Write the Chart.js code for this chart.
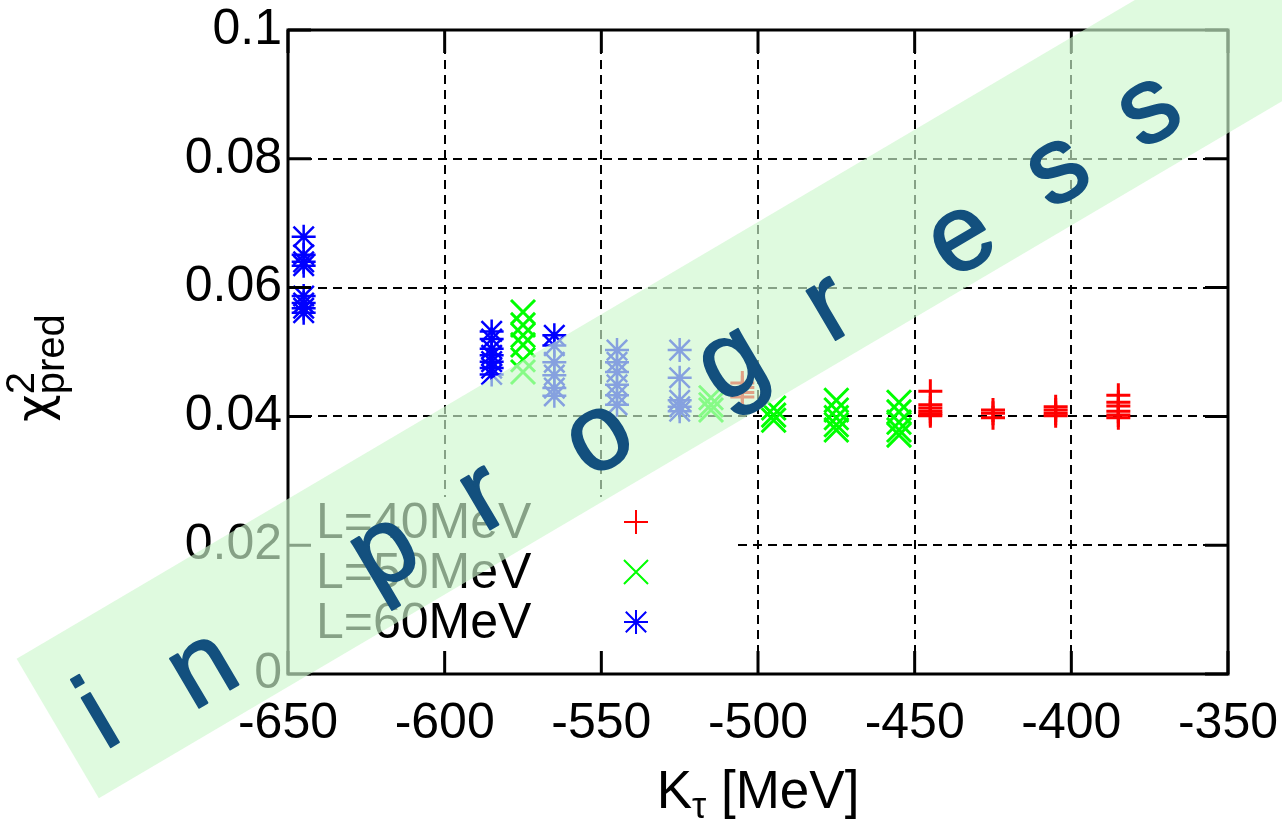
<!DOCTYPE html>
<html>
<head>
<meta charset="utf-8">
<script src="https://cdn.jsdelivr.net/npm/chart.js@4.4.0/dist/chart.umd.min.js"></script>
<style>
  html, body { margin: 0; padding: 0; background: #fff; }
</style>
</head>
<body>
<canvas id="chart" width="1282" height="829"></canvas>
<script>
// K_tau [MeV] and chi^2_pred, one pair of arrays per L
const kTauL40 = [-505, -505, -505, -505,
                 -445, -445, -445, -445, -445, -445,
                 -425, -425, -425,
                 -405, -405, -405, -405,
                 -385, -385, -385, -385, -385, -385];
const chiL40 = [0.0452, 0.0445, 0.0437, 0.0430,
                0.0439, 0.0418, 0.0413, 0.0408, 0.0404, 0.0401,
                0.0410, 0.0405, 0.0398,
                0.0415, 0.0410, 0.0405, 0.0401,
                0.0433, 0.0422, 0.0416, 0.0408, 0.0402, 0.0398];

const kTauL50 = [-575, -575, -575, -575, -575, -575,
                 -515, -515, -515,
                 -495, -495, -495,
                 -475, -475, -475, -475, -475,
                 -455, -455, -455, -455, -455];
const chiL50 = [0.0562, 0.0542, 0.0526, 0.0511, 0.0488, 0.0469,
                0.0429, 0.0418, 0.0410,
                0.0413, 0.0402, 0.0394,
                0.0425, 0.0410, 0.0398, 0.0387, 0.0379,
                0.0422, 0.0407, 0.0391, 0.0379, 0.0371];

const kTauL60 = [-645, -645, -645, -645, -645, -645, -645, -645,
                 -585, -585, -585, -585, -585, -585, -585,
                 -565, -565, -565, -565, -565, -565,
                 -545, -545, -545, -545, -545, -545,
                 -525, -525, -525, -525, -525];
const chiL60 = [0.0679, 0.0651, 0.0640, 0.0634, 0.0587, 0.0576, 0.0568, 0.0561,
                0.0532, 0.0520, 0.0505, 0.0495, 0.0485, 0.0475, 0.0465,
                0.0526, 0.0510, 0.0484, 0.0464, 0.0444, 0.0432,
                0.0503, 0.0484, 0.0469, 0.0449, 0.0433, 0.0418,
                0.0503, 0.0460, 0.0425, 0.0415, 0.0408];

const xTicks = [-650, -600, -550, -500, -450, -400, -350];
const yTicks = [0, 0.02, 0.04, 0.06, 0.08, 0.1];

const FONT = '"Liberation Sans", Arial, sans-serif';

const toPoints = (xs, ys) => xs.map((x, i) => ({ x: x, y: ys[i] }));

// key box in the lower-left corner (opaque, hides the grid behind it)
const keyBox = { right: 738, top: 497 };

// banner lettering: [letter, offset along band, offset across band]
const bannerLetters = [
  ['i', -279, 672], ['n', -165, 683],
  ['p', 51, 674], ['r', 164, 677], ['o', 294, 684], ['g', 446, 687],
  ['r', 558, 689], ['e', 707, 696], ['s', 825, 686], ['s', 934, 681]
];

// gnuplot-style asterisk: a plus and an x of the same size
function drawAsterisk(ctx, cx, cy, r) {
  const d = r * 0.85;
  ctx.beginPath();
  ctx.moveTo(cx - r, cy); ctx.lineTo(cx + r, cy);
  ctx.moveTo(cx, cy - r); ctx.lineTo(cx, cy + r);
  ctx.moveTo(cx - d, cy - d); ctx.lineTo(cx + d, cy + d);
  ctx.moveTo(cx - d, cy + d); ctx.lineTo(cx + d, cy - d);
  ctx.stroke();
}

// keep the plot box where the layout padding puts it
function noLabelMargins(s) {
  s.paddingLeft = 0;
  s.paddingRight = 0;
  s.paddingTop = 0;
  s.paddingBottom = 0;
}

const gnuplotFrame = {
  id: 'gnuplotFrame',
  beforeDatasetsDraw(chart) {
    const { ctx, chartArea: a, scales: { x, y } } = chart;
    ctx.save();
    ctx.strokeStyle = '#000';
    ctx.lineWidth = 2;
    ctx.setLineDash([9, 6]);
    yTicks.slice(1, -1).forEach(v => {
      const py = Math.round(y.getPixelForValue(v));
      const x0 = py > keyBox.top ? keyBox.right : a.left;
      ctx.beginPath();
      ctx.moveTo(x0, py);
      ctx.lineTo(a.right, py);
      ctx.stroke();
    });
    xTicks.slice(1, -1).forEach(v => {
      const px = Math.round(x.getPixelForValue(v));
      const y1 = px < keyBox.right ? keyBox.top : a.bottom;
      ctx.beginPath();
      ctx.moveTo(px, a.top);
      ctx.lineTo(px, y1);
      ctx.stroke();
    });
    ctx.restore();
  },
  afterDatasetsDraw(chart) {
    const { ctx, chartArea: a, scales: { x, y } } = chart;

    // asterisks for the L=60 set, placed through the scales
    const star = chart.data.datasets[2];
    ctx.save();
    ctx.strokeStyle = star.borderColor;
    ctx.lineWidth = 2.5;
    star.data.forEach(p => {
      drawAsterisk(ctx, x.getPixelForValue(p.x), y.getPixelForValue(p.y), 12);
    });
    ctx.restore();

    ctx.save();
    ctx.strokeStyle = '#000';
    ctx.lineWidth = 3;
    ctx.lineCap = 'butt';
    const tl = 23;
    ctx.beginPath();
    xTicks.forEach(v => {
      const px = x.getPixelForValue(v);
      ctx.moveTo(px, a.bottom); ctx.lineTo(px, a.bottom - tl);
      ctx.moveTo(px, a.top); ctx.lineTo(px, a.top + tl);
    });
    yTicks.forEach(v => {
      const py = y.getPixelForValue(v);
      ctx.moveTo(a.left, py); ctx.lineTo(a.left + tl, py);
      ctx.moveTo(a.right, py); ctx.lineTo(a.right - tl, py);
    });
    ctx.stroke();
    ctx.strokeRect(a.left, a.top, a.right - a.left, a.bottom - a.top);

    // key entries
    ctx.font = '50px ' + FONT;
    ctx.fillStyle = '#000';
    ctx.textAlign = 'left';
    ctx.textBaseline = 'middle';
    chart.data.datasets.forEach((ds, i) => {
      const ry = 522 + i * 50;
      ctx.fillText(ds.label, 316, ry + 2);
      ctx.strokeStyle = ds.borderColor;
      ctx.lineWidth = 2;
      if (i === 2) {
        drawAsterisk(ctx, 636, ry, 12);
      } else {
        Chart.helpers.drawPoint(ctx, {
          pointStyle: ds.pointStyle, radius: ds.pointRadius, rotation: 0, borderWidth: 2
        }, 636, ry);
      }
    });

    // x title: K_tau [MeV]
    ctx.fillStyle = '#000';
    ctx.textBaseline = 'alphabetic';
    ctx.font = '53px ' + FONT;
    const wK = ctx.measureText('K').width;
    const wRest = ctx.measureText(' [MeV]').width;
    ctx.font = '36px ' + FONT;
    const wTau = ctx.measureText('τ').width;
    let tx = (a.left + a.right) / 2 - (wK + wTau + wRest) / 2;
    ctx.font = '53px ' + FONT;
    ctx.fillText('K', tx, 808);
    ctx.font = '36px ' + FONT;
    ctx.fillText('τ', tx + wK, 818);
    ctx.font = '53px ' + FONT;
    ctx.fillText(' [MeV]', tx + wK + wTau, 808);

    // y title: chi^2_pred, reading upwards
    ctx.translate(0, 422);
    ctx.rotate(-Math.PI / 2);
    ctx.font = '48px "DejaVu Sans", sans-serif';
    ctx.fillText('χ', 0, 50);
    const wChi = ctx.measureText('χ').width;
    ctx.font = '40px ' + FONT;
    ctx.fillText('2', wChi, 34);
    ctx.fillText('pred', wChi, 64);
    ctx.restore();
  },
  afterDraw(chart) {
    const { ctx } = chart;
    ctx.save();
    ctx.rotate(-30.5 * Math.PI / 180);
    ctx.fillStyle = 'rgba(206, 247, 206, 0.65)';
    ctx.fillRect(-320, 576, 2200, 162);
    ctx.fillStyle = '#13507e';
    ctx.strokeStyle = '#13507e';
    ctx.lineWidth = 2;
    ctx.lineJoin = 'round';
    ctx.font = '108px ' + FONT;
    ctx.textAlign = 'center';
    ctx.textBaseline = 'alphabetic';
    bannerLetters.forEach(([ch, u, v]) => {
      ctx.fillText(ch, u, v + 28);
      ctx.strokeText(ch, u, v + 28);
    });
    ctx.restore();
  }
};

new Chart(document.getElementById('chart'), {
  type: 'scatter',
  data: {
    datasets: [
      {
        label: 'L=40MeV',
        data: toPoints(kTauL40, chiL40),
        pointStyle: 'cross',
        pointRadius: 12,
        pointBorderWidth: 3,
        borderColor: '#ff0000',
        backgroundColor: '#ff0000'
      },
      {
        label: 'L=50MeV',
        data: toPoints(kTauL50, chiL50),
        pointStyle: 'crossRot',
        pointRadius: 17,
        pointBorderWidth: 3,
        borderColor: '#00ff00',
        backgroundColor: '#00ff00'
      },
      {
        label: 'L=60MeV',
        data: toPoints(kTauL60, chiL60),
        pointStyle: 'star',
        pointRadius: 0,
        borderColor: '#0000ff',
        backgroundColor: '#0000ff'
      }
    ]
  },
  options: {
    responsive: false,
    animation: false,
    layout: { padding: { top: 30, right: 54, left: 0, bottom: 0 } },
    plugins: { legend: { display: false }, tooltip: { enabled: false } },
    scales: {
      x: {
        type: 'linear',
        min: -650,
        max: -350,
        afterBuildTicks: s => { s.ticks = xTicks.map(v => ({ value: v })); },
        afterFit: s => { s.height = 155; noLabelMargins(s); },
        grid: { display: false, drawTicks: false },
        border: { display: false },
        ticks: {
          autoSkip: false,
          maxRotation: 0,
          padding: 20,
          color: '#000',
          font: { family: FONT, size: 50 },
          callback: v => String(v)
        }
      },
      y: {
        type: 'linear',
        min: 0,
        max: 0.1,
        afterBuildTicks: s => { s.ticks = yTicks.map(v => ({ value: v })); },
        afterFit: s => { s.width = 288; noLabelMargins(s); },
        grid: { display: false, drawTicks: false },
        border: { display: false },
        ticks: {
          autoSkip: false,
          padding: 6,
          color: '#000',
          font: { family: FONT, size: 50 },
          callback: v => String(Math.round(v * 100) / 100)
        }
      }
    }
  },
  plugins: [gnuplotFrame]
});
</script>
</body>
</html>
